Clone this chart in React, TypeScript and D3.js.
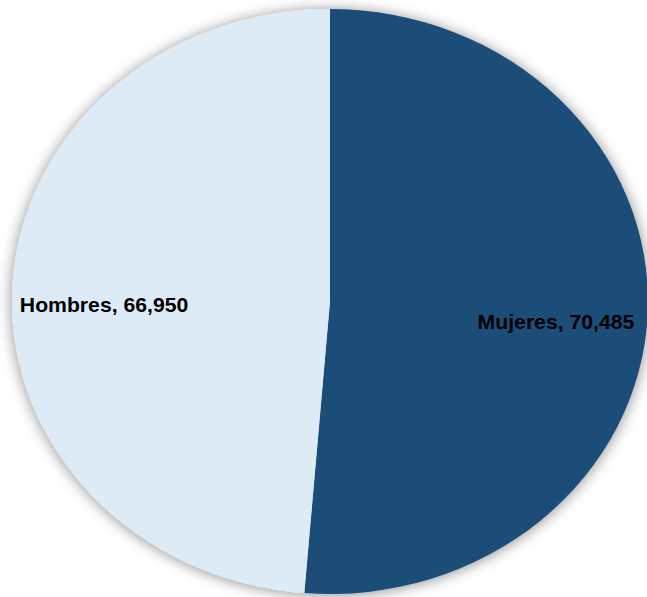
import React from "react";
import * as d3 from "d3";

const categories = ["Mujeres", "Hombres"];
const values = [70485, 66950];
const colors = ["#1F4E79", "#DDEBF7"];

const W = 647;
const H = 597;

export default function App() {
  const cx = 330;
  const cy = 301.5;
  const ry = 292.5;
  const rx = 318;
  const sx = rx / ry;

  const data = categories.map((c, i) => ({ name: c, value: values[i] }));
  const pie = d3
    .pie<{ name: string; value: number }>()
    .sort(null)
    .value((d) => d.value);
  const arcs = pie(data);
  const arc = d3
    .arc<d3.PieArcDatum<{ name: string; value: number }>>()
    .innerRadius(0)
    .outerRadius(ry);
  const labelArc = d3
    .arc<d3.PieArcDatum<{ name: string; value: number }>>()
    .innerRadius(208)
    .outerRadius(208);
  const fmt = d3.format(",");

  return (
    <svg
      width={W}
      height={H}
      style={{ position: "absolute", left: 0, top: 0, background: "#fff" }}
    >
      <defs>
        <filter id="sh" x="-20%" y="-20%" width="140%" height="140%">
          <feGaussianBlur in="SourceAlpha" stdDeviation="7" result="b" />
          <feOffset in="b" dx="0" dy="1" result="o" />
          <feComponentTransfer in="o" result="s">
            <feFuncA type="linear" slope="0.45" />
          </feComponentTransfer>
          <feMerge>
            <feMergeNode in="s" />
            <feMergeNode in="SourceGraphic" />
          </feMerge>
        </filter>
      </defs>
      <g transform={`translate(${cx},${cy}) scale(${sx},1)`}>
        <g filter="url(#sh)">
          {arcs.map((a, i) => (
            <path key={i} d={arc(a) || ""} fill={colors[i]} />
          ))}
        </g>
        {arcs.map((a, i) => {
          const [lx, ly] = labelArc.centroid(a);
          return (
            <text
              key={"t" + i}
              x={lx}
              y={ly + 19}
              textAnchor="middle"
              fontFamily="'Liberation Sans', Arial, sans-serif"
              fontWeight="bold"
              fontSize={19.5}
              fill="#000"
            >
              {`${a.data.name}, ${fmt(a.data.value)}`}
            </text>
          );
        })}
      </g>
    </svg>
  );
}
